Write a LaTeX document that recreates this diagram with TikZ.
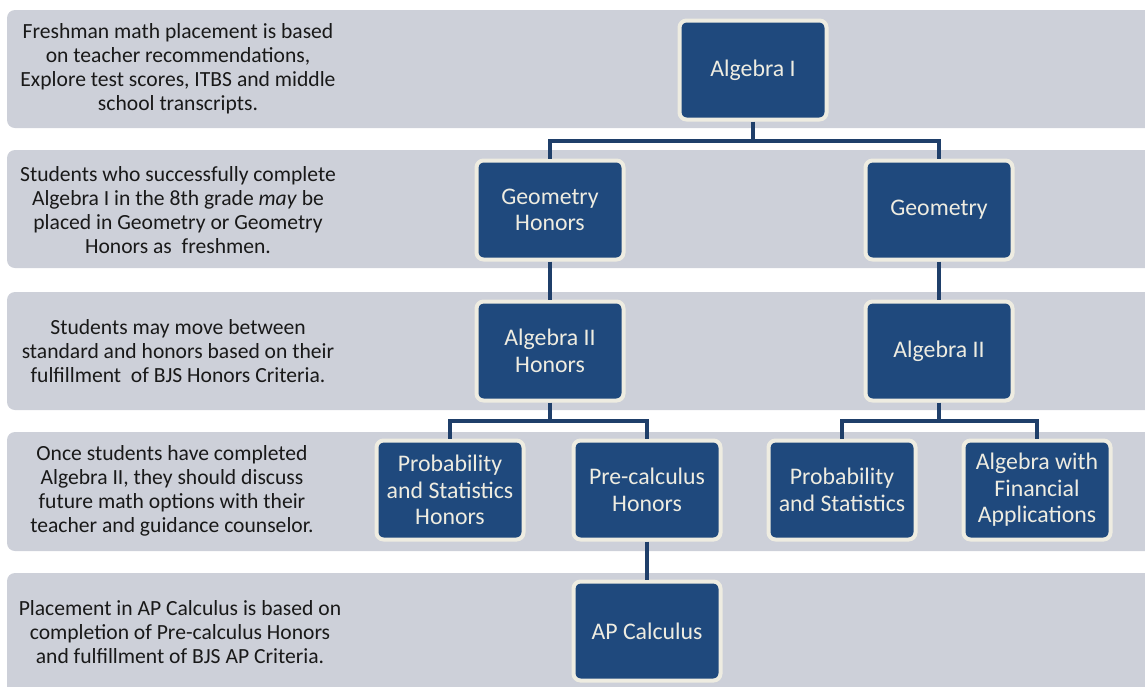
\documentclass[tikz,border=0pt]{standalone}
\usepackage{fontspec}
\setmainfont{Carlito}
\begin{document}
\begin{tikzpicture}[x=1pt,y=-1pt,
  band/.style={fill=bandgray,draw=none,rounded corners=8pt},
  note/.style={align=center,font=\fontsize{21.6}{24}\selectfont,text=black!90},
  course/.style={fill=boxblue,draw=boxcream,line width=4pt,rounded corners=7pt,
     minimum width=147pt,minimum height=99pt,align=center,text=boxcream,
     font=\fontsize{23.8}{26.5}\selectfont,inner sep=2pt},
  link/.style={draw=lineblue,line width=4pt}]
\definecolor{bandgray}{RGB}{205,208,217}
\definecolor{boxblue}{RGB}{31,73,125}
\definecolor{boxcream}{RGB}{238,236,225}
\definecolor{lineblue}{RGB}{31,63,106}
\useasboundingbox (0,0) rectangle (1145,686);
\begin{scope}
\clip (0,0) rectangle (1145,686);
\fill[band] (7,10) rectangle (1160,128);
\fill[band] (7,150) rectangle (1160,268);
\fill[band] (7,292) rectangle (1160,410);
\fill[band] (7,432) rectangle (1160,551);
\fill[band] (7,573) rectangle (1160,700);
\end{scope}
\node[note] (t1) at (178,69) {Freshman math placement is based\\on teacher recommendations,\\Explore test scores, ITBS and middle\\school transcripts.};
\node[note] (t2) at (178,210) {Students who successfully complete\\Algebra I in the 8th grade \textit{may} be\\placed in Geometry or Geometry\\Honors as~ freshmen.};
\node[note] (t3) at (178,351) {Students may move between\\standard and honors based on their\\fulfillment~ of BJS Honors Criteria.};
\node[note] (t4) at (172,491) {Once students have completed\\Algebra II, they should discuss\\future math options with their\\teacher and guidance counselor.};
\node[note] (t5) at (180,632) {Placement in AP Calculus is based on\\completion of Pre-calculus Honors\\and fulfillment of BJS AP Criteria.};

\node[course] (alg1) at (753,70) {Algebra I};
\node[course] (geoh) at (550,210) {Geometry\\Honors};
\node[course] (geo) at (939,210) {Geometry};
\node[course] (alg2h) at (550,351) {Algebra II\\Honors};
\node[course] (alg2) at (939,351) {Algebra II};
\node[course] (psh) at (450,490) {Probability\\and Statistics\\Honors};
\node[course] (pch) at (647,490) {Pre-calculus\\Honors};
\node[course] (ps) at (842,490) {Probability\\and Statistics};
\node[course] (afa) at (1037,490) {Algebra with\\Financial\\Applications};
\node[course] (apc) at (647,631) {AP Calculus};

\coordinate (j1) at (753,141);
\coordinate (j2) at (550,421);
\coordinate (j3) at (939,421);

\draw[link] (alg1.south) -- (j1);
\draw[link] (geoh.north) |- (j1) -| (geo.north);
\draw[link] (geoh.south) -- (alg2h.north);
\draw[link] (geo.south) -- (alg2.north);
\draw[link] (alg2h.south) -- (j2);
\draw[link] (psh.north) |- (j2) -| (pch.north);
\draw[link] (alg2.south) -- (j3);
\draw[link] (ps.north) |- (j3) -| (afa.north);
\draw[link] (pch.south) -- (apc.north);
\end{tikzpicture}
\end{document}
